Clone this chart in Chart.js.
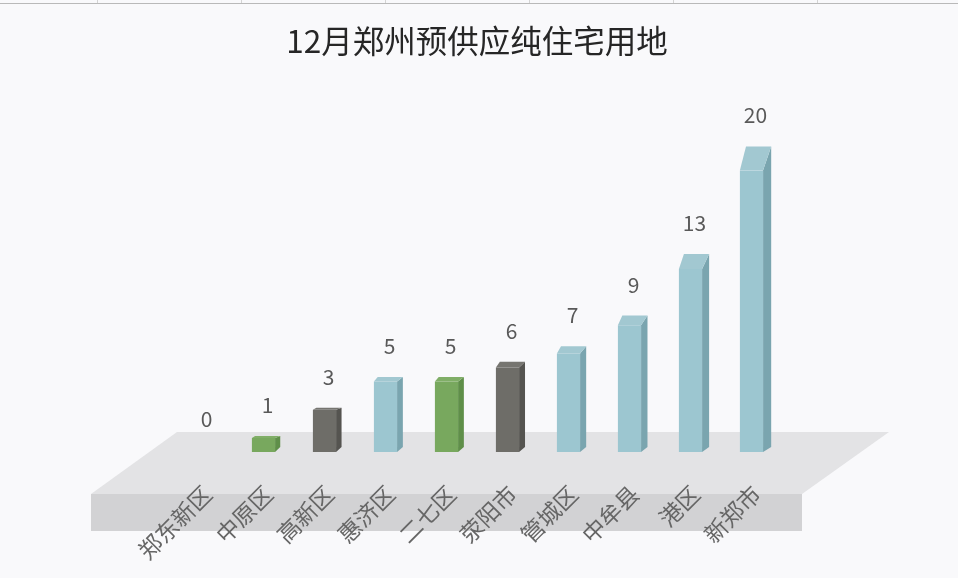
<!DOCTYPE html>
<html>
<head>
<meta charset="utf-8">
<style>
  html, body { margin: 0; padding: 0; background: #f9f9fb; }
  #wrap { width: 958px; height: 578px; }
</style>
<script src="https://cdn.jsdelivr.net/npm/chart.js@4/dist/chart.umd.min.js"></script>
</head>
<body>
<div id="wrap"><canvas id="myChart" width="958" height="578"></canvas></div>
<script>
const districts = ['郑东新区', '中原区', '高新区', '惠济区', '二七区', '荥阳市', '管城区', '中牟县', '港区', '新郑市'];
const parcels = [0, 1, 3, 5, 5, 6, 7, 9, 13, 20];
const frontColors = ['#9cc6d0', '#78a85e', '#6e6d68', '#9cc6d0', '#78a85e', '#6e6d68', '#9cc6d0', '#9cc6d0', '#9cc6d0', '#9cc6d0'];
const sideColors = ['#7aa5af', '#5f8f49', '#555450', '#7aa5af', '#5f8f49', '#555450', '#7aa5af', '#7aa5af', '#7aa5af', '#7aa5af'];
const topColors = ['#a2c8d1', '#80ae67', '#767570', '#a2c8d1', '#80ae67', '#767570', '#a2c8d1', '#a2c8d1', '#a2c8d1', '#a2c8d1'];

const cjkFont = '"Noto Sans CJK SC", "Noto Sans", sans-serif';

// depth of the fake 3d block grows with bar height, short bars stay nearly flat
const depthOf = (h) => ({ dx: 5 + h * 0.011, dy: Math.max(2, (h - 22) * 0.092) });

const sheetBackdrop = {
  id: 'sheetBackdrop',
  beforeDraw(chart) {
    const { ctx, chartArea: a, width, height } = chart;
    ctx.save();
    ctx.fillStyle = '#f9f9fb';
    ctx.fillRect(0, 0, width, height);
    // strip of the spreadsheet left at the very top
    ctx.fillStyle = '#b9b9b9';
    ctx.fillRect(0, 3, width, 1);
    ctx.fillStyle = '#d4d4d4';
    [97, 241, 385, 529, 673, 817].forEach((x) => ctx.fillRect(x, 0, 1, 3));
    // floor plate
    ctx.fillStyle = '#e3e3e5';
    ctx.beginPath();
    ctx.moveTo(a.left + 5, a.bottom - 20);
    ctx.lineTo(a.right + 107, a.bottom - 20);
    ctx.lineTo(a.right + 20, a.bottom + 42);
    ctx.lineTo(a.left - 81, a.bottom + 42);
    ctx.closePath();
    ctx.fill();
    ctx.fillStyle = '#d2d2d4';
    ctx.fillRect(a.left - 81, a.bottom + 42, a.width + 101, 37);
    ctx.restore();
  },
};

const barBlocks = {
  id: 'barBlocks',
  afterDatasetsDraw(chart) {
    const { ctx } = chart;
    const meta = chart.getDatasetMeta(0);
    const base = chart.scales.y.getPixelForValue(0);
    ctx.save();
    meta.data.forEach((bar, i) => {
      const value = parcels[i];
      const left = bar.x - bar.width / 2;
      const right = bar.x + bar.width / 2;
      const h = base - bar.y;
      const { dx, dy } = depthOf(h);
      if (value > 0) {
        ctx.fillStyle = sideColors[i];
        ctx.beginPath();
        ctx.moveTo(right, bar.y);
        ctx.lineTo(right + dx, bar.y - dy);
        ctx.lineTo(right + dx, base - 5);
        ctx.lineTo(right, base);
        ctx.closePath();
        ctx.fill();
        ctx.fillStyle = topColors[i];
        ctx.beginPath();
        ctx.moveTo(left, bar.y);
        ctx.lineTo(left + dx - 2, bar.y - dy);
        ctx.lineTo(right + dx, bar.y - dy);
        ctx.lineTo(right, bar.y);
        ctx.closePath();
        ctx.fill();
      }
      ctx.fillStyle = '#595959';
      ctx.font = '21px ' + cjkFont;
      ctx.textAlign = 'center';
      ctx.textBaseline = 'middle';
      ctx.fillText(String(value), bar.x + 4, bar.y - dy - 31);
    });
    ctx.restore();
  },
};

const ctx = document.getElementById('myChart').getContext('2d');
new Chart(ctx, {
  type: 'bar',
  data: {
    labels: districts,
    datasets: [{
      data: parcels,
      backgroundColor: frontColors,
      borderWidth: 0,
      barPercentage: 0.38,
      categoryPercentage: 1,
    }],
  },
  options: {
    responsive: false,
    animation: false,
    layout: { padding: { left: 172, right: 176, top: 0, bottom: 0 } },
    plugins: {
      legend: { display: false },
      tooltip: { enabled: false },
      title: {
        display: true,
        text: '12月郑州预供应纯住宅用地',
        color: '#262626',
        font: { family: cjkFont, size: 31.5, weight: 'normal' },
        padding: { top: 22, bottom: 110.5 },
      },
    },
    scales: {
      x: {
        grid: { display: false },
        border: { display: false },
        afterFit(scale) { scale.height = 126; },
        ticks: {
          color: '#666666',
          font: { family: cjkFont, size: 23 },
          minRotation: 45,
          maxRotation: 45,
          autoSkip: false,
          padding: 20,
          labelOffset: 5,
        },
      },
      y: { display: false, min: 0, max: 20 },
    },
  },
  plugins: [sheetBackdrop, barBlocks],
});
</script>
</body>
</html>
